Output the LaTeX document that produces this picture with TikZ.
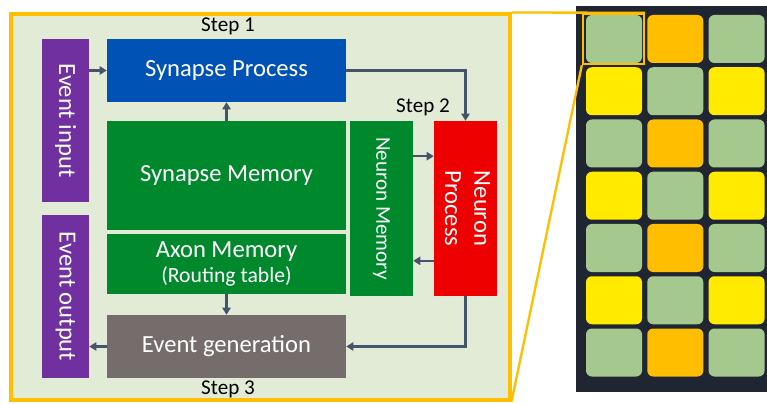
\documentclass[tikz,border=0pt]{standalone}
\usepackage{fontspec}
\setmainfont{Carlito}
\usetikzlibrary{arrows.meta,calc}
\definecolor{coreback}{HTML}{E2EBD6}
\definecolor{frameorange}{HTML}{FFBE00}
\definecolor{evpurple}{HTML}{7030A0}
\definecolor{synblue}{HTML}{0052B4}
\definecolor{memgreen}{HTML}{00892C}
\definecolor{neured}{HTML}{EE0000}
\definecolor{gengray}{HTML}{756C6C}
\definecolor{arrowgray}{HTML}{44546A}
\definecolor{panelnavy}{HTML}{1F2631}
\definecolor{cellgreen}{HTML}{A5C88F}
\definecolor{cellorange}{HTML}{FFBE00}
\definecolor{cellyellow}{HTML}{FFEA00}

\begin{document}
\begin{tikzpicture}[x=0.03cm,y=-0.03cm,
	blk/.style={inner sep=0pt,text=white,font=\fontsize{21}{25}\selectfont},
	flow/.style={draw=arrowgray,line width=2.1pt,-{Triangle[length=6pt,width=7pt]}},
	steplbl/.style={font=\fontsize{18}{21}\selectfont},
	cell/.style={inner sep=0pt,rounded corners=5pt,minimum width=56*\px,minimum height=48*\px}]
			\def\px{0.03cm}
			\useasboundingbox (0,0) rectangle (767,404);
			% core frame
			\node[draw=frameorange,line width=2.6pt,fill=coreback,inner sep=0pt,minimum width=499*\px,minimum height=386*\px] (core) at (260.5,207) {};
			% blocks
			\node[blk,fill=evpurple,minimum width=47*\px,minimum height=163*\px] (evin) at (65.5,120.5) {\rotatebox{-90}{Event input}};
			\node[blk,fill=evpurple,minimum width=47*\px,minimum height=163*\px] (evout) at (65.5,296.5) {\rotatebox{-90}{Event output}};
			\node[blk,fill=synblue,minimum width=239*\px,minimum height=63*\px] (synp) at (226.5,70.5) {Synapse Process};
			\node[blk,fill=memgreen,minimum width=239*\px,minimum height=109*\px] (synm) at (226.5,175.5) {Synapse Memory};
			\node[blk,fill=memgreen,minimum width=239*\px,minimum height=60*\px,align=center] (axon) at (226.5,264) {Axon Memory\\[-3pt]{\fontsize{18.5}{21}\selectfont(Routing table)}};
			\node[blk,fill=memgreen,minimum width=63*\px,minimum height=175*\px,font=\fontsize{18}{21}\selectfont] (neum) at (381.5,208.5) {\rotatebox{-90}{Neuron Memory}};
			\node[blk,fill=neured,minimum width=63*\px,minimum height=175*\px] (neup) at (465.5,208.5) {\rotatebox{-90}{\begin{tabular}{@{}c@{}}Neuron\\Process\end{tabular}}};
			\node[blk,fill=gengray,minimum width=239*\px,minimum height=63*\px] (evgen) at (226.5,346.5) {Event generation};
			% steps
			\node[steplbl] (step1) at (228,26) {Step 1};
			\node[steplbl] (step2) at (423,107) {Step 2};
			\node[steplbl] (step3) at (228,389) {Step 3};
			% connectors
			\draw[flow] (evin.east |- synp.west) -- (synp.west);
			\draw[flow] (synm.north) -- (synp.south);
			\draw[flow] (synp.east) -| (neup.north);
			\draw[flow] ([yshift=1.57cm]neum.east) -- ([yshift=1.57cm]neup.west);
			\draw[flow] ([yshift=-1.57cm]neup.west) -- ([yshift=-1.57cm]neum.east);
			\draw[flow] (axon.south) -- (evgen.north);
			\draw[flow] (neup.south) |- (evgen.east);
			\draw[flow] (evgen.west) -- (evout.east |- evgen.west);
			% chip array
			\fill[panelnavy] (576,6) rectangle (770,392);
			\foreach \r in {0,...,6}
			{
				\ifodd\r \def\sidec{cellyellow}\def\midc{cellgreen}\else \def\sidec{cellgreen}\def\midc{cellorange}\fi
				\foreach \c/\cc in {0/\sidec,1/\midc,2/\sidec}
				{
					\node[cell,fill=\cc] (cell\r\c) at (614+61.3*\c,39+52.25*\r) {};
				}
			}
			\node[draw=frameorange,line width=2pt,inner sep=0pt,minimum width=61*\px,minimum height=50*\px] (zoom) at (613.5,39) {};
			\draw[frameorange,line width=2pt] (core.north east) -- (zoom.north east);
			\draw[frameorange,line width=2pt] (core.south east) -- (zoom.south west);
		\end{tikzpicture}
\end{document}
